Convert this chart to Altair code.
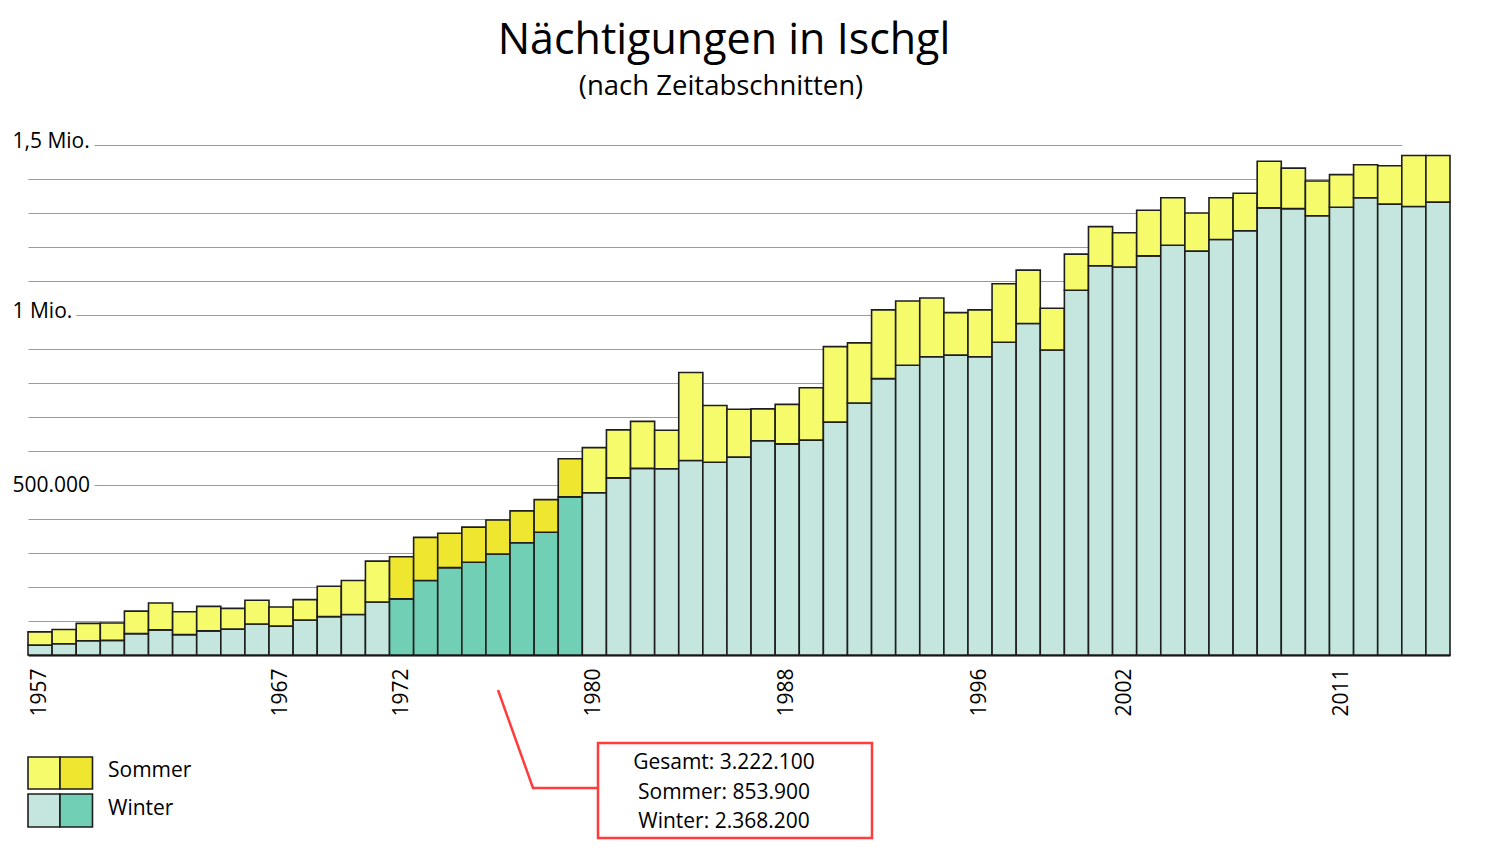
import altair as alt
import pandas as pd

# ---- data (thousands of overnight stays) ----
years = list(range(1957, 2016))
winter_k = [29, 33, 42, 43, 63, 74, 60, 71, 76, 91,
            85, 103, 113, 119, 156, 165, 219, 257, 273, 297,
            330, 361, 465, 477, 521, 549, 548, 572, 567, 582,
            630, 621, 632, 685, 741, 813, 852, 877, 882, 877,
            920, 975, 897, 1073, 1145, 1141, 1174, 1205, 1188, 1222,
            1248, 1315, 1313, 1292, 1317, 1345, 1326, 1319, 1332]
summer_k = [39, 42, 51, 51, 66, 79, 67, 72, 61, 70,
            56, 60, 89, 100, 120, 124, 127, 101, 103, 100,
            94, 96, 112, 133, 141, 138, 113, 259, 167, 141,
            94, 116, 154, 222, 177, 202, 189, 173, 125, 138,
            172, 157, 123, 106, 115, 101, 134, 140, 112, 123,
            110, 137, 119, 102, 96, 97, 113, 150, 137]
highlight_years = [1972, 1973, 1974, 1975, 1976, 1977, 1978, 1979]
label_years = [1957, 1967, 1972, 1980, 1988, 1996, 2002, 2011]
grid_values = [0, 100000, 200000, 300000, 400000, 500000, 600000, 700000,
               800000, 900000, 1000000, 1100000, 1200000, 1300000, 1400000, 1500000]
keys = ["Sommer", "Sommer 1972–1979", "Winter", "Winter 1972–1979"]
key_colors = ["#f6fb6c", "#eee62f", "#c4e6de", "#70cfb4"]
legend_labels = ["Sommer", "Winter"]
annotation_lines = ["Gesamt: 3.222.100", "Sommer: 853.900", "Winter: 2.368.200"]

rows = []
for y, w, s in zip(years, winter_k, summer_k):
    suffix = " 1972–1979" if y in highlight_years else ""
    rows.append({"year": y, "season": "Winter", "key": "Winter" + suffix, "value": w * 1000, "ord": 0})
    rows.append({"year": y, "season": "Sommer", "key": "Sommer" + suffix, "value": s * 1000, "ord": 1})
df = pd.DataFrame(rows)
one = pd.DataFrame({"d": [0]})

FONT = "Open Sans"
RED = "#ff3b3b"

y_label_expr = ("datum.value == 1500000 ? '1,5 Mio.' : datum.value == 1000000 ? '1 Mio.' : "
                "datum.value == 500000 ? '500.000' : ''")

bars = alt.Chart(df).mark_bar(stroke="#1e1e1e", strokeWidth=1.6).encode(
    x=alt.X("year:O",
            scale=alt.Scale(paddingInner=0, paddingOuter=0),
            axis=alt.Axis(values=label_years, labelAngle=270, ticks=False, tickSize=0,
                          labelPadding=13, labelFontSize=21, labelFont=FONT,
                          labelColor="black", labelOverlap=False,
                          domainColor="black", domainWidth=2, grid=False, title=None)),
    y=alt.Y("value:Q", stack="zero",
            scale=alt.Scale(domain=[0, 1500000], nice=False, zero=True),
            axis=alt.Axis(values=grid_values, grid=True, gridColor="#9c9c9c", gridWidth=1.2,
                          gridDash={"condition": [
                              {"test": "datum.value === 1000000", "value": [0, 48, 1326, 3000]},
                              {"test": "datum.value > 0 && datum.value % 500000 === 0",
                               "value": [0, 66, 1308, 3000]}],
                              "value": [1374, 3000]},
                          domain=False, ticks=False, tickSize=0, labelExpr=y_label_expr,
                          labelAlign="left", labelPadding=16, labelBaseline="middle",
                          labelOffset={"condition": {"test": "datum.value === 500000", "value": 0},
                                       "value": -4},
                          labelFontSize=21, labelFont=FONT, labelColor="black",
                          labelOverlap=False, labelFlush=False, title=None)),
    color=alt.Color("key:N", scale=alt.Scale(domain=keys, range=key_colors), legend=None),
    order=alt.Order("ord:Q"),
)

title = alt.Chart(one).mark_text(text="Nächtigungen in Ischgl", font=FONT, fontSize=43,
                                 align="center", baseline="alphabetic", color="black").encode(
    x=alt.value(696), y=alt.value(-91))
subtitle = alt.Chart(one).mark_text(text="(nach Zeitabschnitten)", font=FONT, fontSize=27.5,
                                    align="center", baseline="alphabetic", color="black").encode(
    x=alt.value(693), y=alt.value(-50))

lead1 = alt.Chart(one).mark_rule(color=RED, strokeWidth=2.5).encode(
    x=alt.value(470), y=alt.value(545), x2=alt.value(505), y2=alt.value(643))
lead2 = alt.Chart(one).mark_rule(color=RED, strokeWidth=2.5).encode(
    x=alt.value(504), y=alt.value(643), x2=alt.value(570), y2=alt.value(643))
box = alt.Chart(one).mark_rect(fillOpacity=0, stroke=RED, strokeWidth=2.5).encode(
    x=alt.value(570), x2=alt.value(844), y=alt.value(598), y2=alt.value(693))
box_text = alt.Chart(one).mark_text(font=FONT, fontSize=21, align="center", baseline="alphabetic",
                                    lineHeight=29.5, color="black").encode(
    x=alt.value(696), y=alt.value(624), text=alt.value(annotation_lines))

legend_layers = []
legend_rows = [(612, 644, key_colors[0], key_colors[1], legend_labels[0], 631.5),
               (649, 682, key_colors[2], key_colors[3], legend_labels[1], 669.5)]
for y0, y1, c_light, c_dark, lab, ty in legend_rows:
    legend_layers.append(alt.Chart(one).mark_rect(fill=c_light, stroke="#1e1e1e", strokeWidth=1.6).encode(
        x=alt.value(0), x2=alt.value(32), y=alt.value(y0), y2=alt.value(y1)))
    legend_layers.append(alt.Chart(one).mark_rect(fill=c_dark, stroke="#1e1e1e", strokeWidth=1.6).encode(
        x=alt.value(32), x2=alt.value(64.5), y=alt.value(y0), y2=alt.value(y1)))
    legend_layers.append(alt.Chart(one).mark_text(text=lab, font=FONT, fontSize=21, align="left",
                                                  baseline="alphabetic", color="black").encode(
        x=alt.value(80), y=alt.value(ty)))

chart = alt.layer(bars, title, subtitle, lead1, lead2, box, box_text, *legend_layers).properties(
    width=1422, height=510,
    autosize=alt.AutoSizeParams(type="none"),
    padding={"left": 20, "top": 137, "right": 31, "bottom": 185},
    background="white",
).configure_view(strokeWidth=0)

chart.save("out.html", embed_options={"renderer": "svg", "actions": False})
